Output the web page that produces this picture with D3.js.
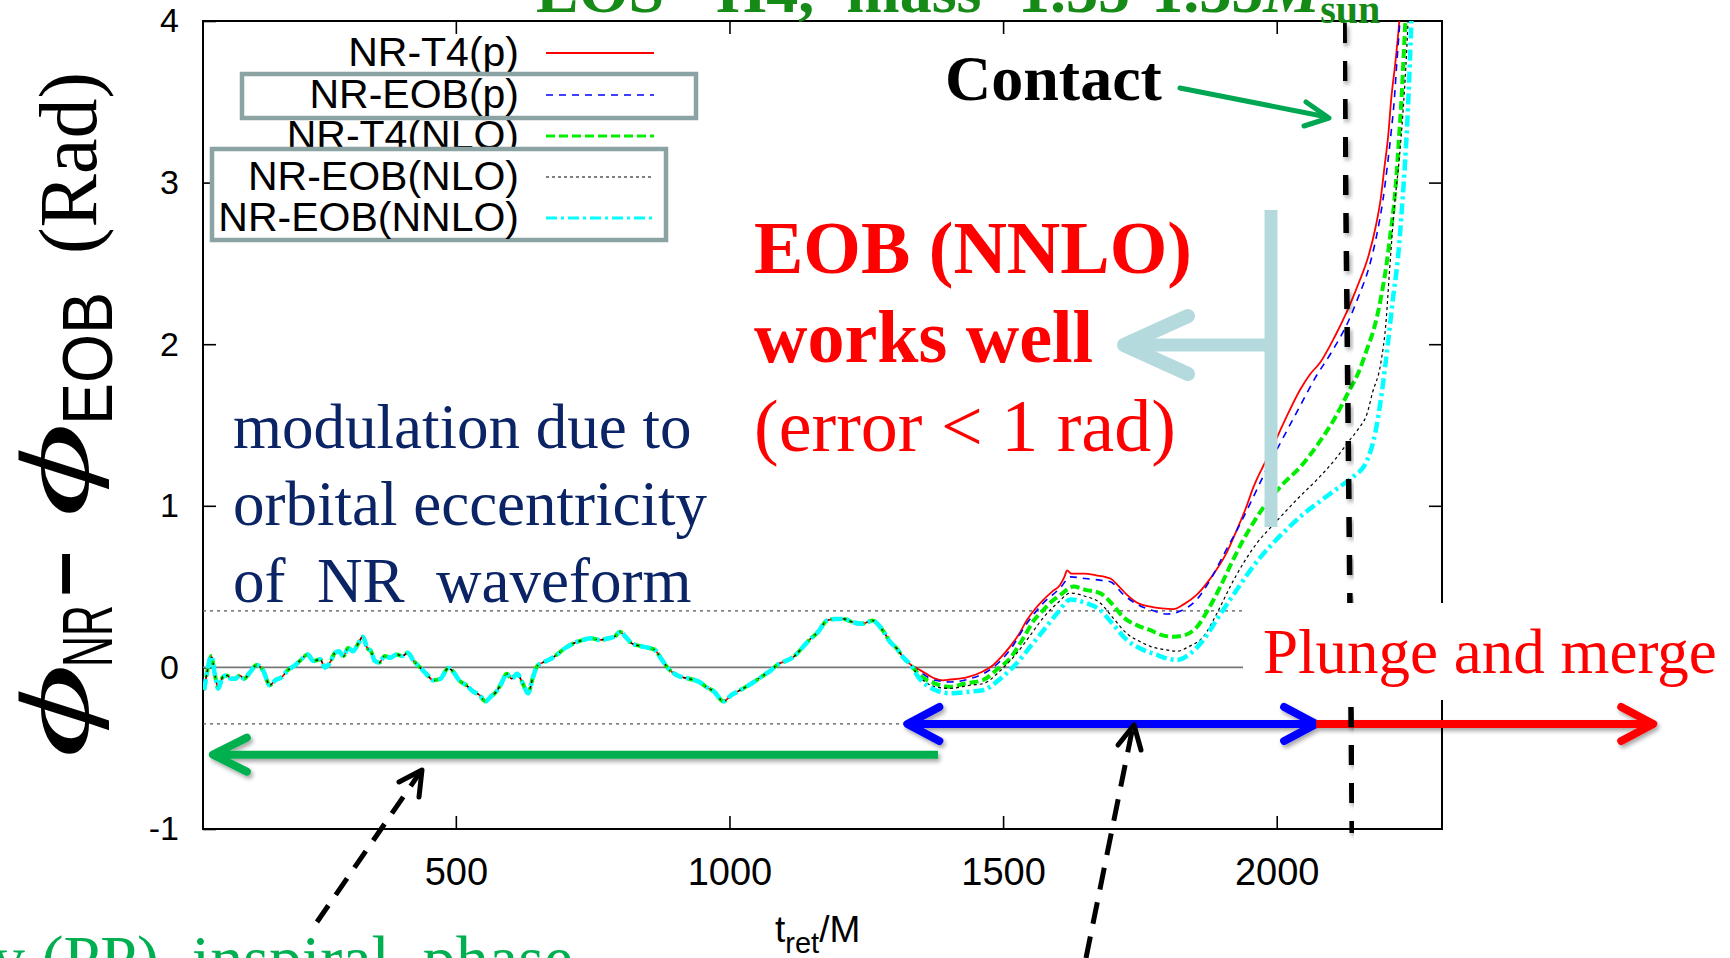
<!DOCTYPE html>
<html>
<head>
<meta charset="utf-8">
<script src="https://cdn.jsdelivr.net/npm/d3@7"></script>
<style>
  html, body { margin: 0; padding: 0; background: #fff; }
  svg { display: block; }
  text { white-space: pre; }
</style>
</head>
<body>
<div id="chart"></div>
<script>
// ---- data ----
const xTicks = [500, 1000, 1500, 2000];
const yTicks = [-1, 0, 1, 2, 3, 4];
const seriesNames = ["NR-T4(p)", "NR-EOB(p)", "NR-T4(NLO)", "NR-EOB(NLO)", "NR-EOB(NNLO)"];

// inspiral part, where all five curves lie on top of each other
const tEarly = [40, 46, 53, 60, 66, 74, 82, 89, 97, 105, 113, 124, 136, 148, 160, 170, 182, 192, 205, 218,
  229, 240, 252, 261, 270, 279, 286, 295, 303, 312, 322, 330, 338, 345, 352, 360, 370, 380, 392, 402,
  412, 423, 433, 446, 459, 472, 486, 496, 506, 519, 532, 543, 554, 564, 574, 583, 593, 602, 612, 621,
  632, 641, 649, 659, 672, 685, 700, 716, 733, 747, 763, 779, 790, 800, 810, 821, 840, 863, 876, 889,
  905, 926, 945, 957, 972, 989, 1004, 1020, 1040, 1062, 1075, 1089, 1103, 1115, 1130, 1146, 1162, 1178, 1193, 1209,
  1225, 1241, 1252, 1262, 1273, 1282, 1293, 1305, 1318, 1330];
const phiEarly = [-0.14, -0.02, 0.07, -0.05, -0.13, -0.06, -0.05, -0.07, -0.07, -0.05, -0.07, -0.03, 0.015, -0.02, -0.11, -0.08, -0.06, -0.02, 0.01, 0.05,
  0.08, 0.04, 0.05, 0.0, 0.03, 0.09, 0.10, 0.07, 0.12, 0.10, 0.15, 0.19, 0.12, 0.10, 0.04, 0.03, 0.07, 0.06, 0.08, 0.07,
  0.09, 0.04, 0.005, -0.04, -0.08, -0.07, -0.005, -0.03, -0.08, -0.11, -0.15, -0.17, -0.21, -0.18, -0.15, -0.10, -0.04, -0.07, -0.04, -0.09,
  -0.16, -0.06, 0.01, 0.03, 0.05, 0.08, 0.12, 0.15, 0.17, 0.18, 0.17, 0.18, 0.19, 0.22, 0.19, 0.15, 0.13, 0.11, 0.05, -0.01,
  -0.05, -0.07, -0.09, -0.12, -0.15, -0.21, -0.17, -0.14, -0.10, -0.05, -0.02, 0.02, 0.04, 0.06, 0.11, 0.17, 0.22, 0.29, 0.30, 0.30,
  0.28, 0.27, 0.28, 0.29, 0.26, 0.22, 0.16, 0.12, 0.06, 0.02];

// late inspiral / merger, one array pair per curve
const tT4p = [1345, 1360, 1376, 1390, 1403, 1420, 1440, 1460, 1482, 1498, 1513, 1528, 1543, 1558, 1574, 1590, 1604, 1612, 1617, 1625,
  1647, 1670, 1696, 1712, 1726, 1745, 1769, 1790, 1811, 1830, 1854, 1872, 1891, 1910, 1927, 1943, 1958, 1973, 1988, 2015,
  2043, 2060, 2080, 2105, 2128, 2150, 2168, 2181, 2190, 2197, 2204, 2209, 2217, 2224, 2232];
const phiT4p = [-0.01, -0.04, -0.07, -0.08, -0.075, -0.07, -0.055, -0.03, 0.015, 0.07, 0.13, 0.20, 0.29, 0.36, 0.42, 0.47, 0.51, 0.56, 0.60, 0.58,
  0.58, 0.57, 0.55, 0.50, 0.45, 0.40, 0.376, 0.365, 0.36, 0.39, 0.45, 0.52, 0.61, 0.72, 0.85, 0.98, 1.12, 1.23, 1.33, 1.53,
  1.72, 1.81, 1.89, 2.04, 2.20, 2.38, 2.55, 2.73, 2.90, 3.10, 3.30, 3.51, 3.75, 4.0, 4.4];

const tEOBp = [1345, 1376, 1403, 1440, 1482, 1513, 1543, 1574, 1604, 1623, 1650, 1677, 1696, 1720, 1745, 1775, 1800, 1825, 1854, 1880,
  1905, 1935, 1958, 1985, 2010, 2043, 2070, 2100, 2132, 2150, 2169, 2183, 2194, 2202, 2209, 2215, 2219, 2225, 2232];
const phiEOBp = [-0.02, -0.08, -0.09, -0.07, 0.0, 0.11, 0.27, 0.40, 0.49, 0.56, 0.55, 0.54, 0.53, 0.45, 0.39, 0.35, 0.33, 0.35, 0.42, 0.55,
  0.71, 0.90, 1.06, 1.25, 1.41, 1.62, 1.79, 1.95, 2.15, 2.30, 2.48, 2.68, 2.89, 3.10, 3.31, 3.52, 3.72, 4.0, 4.4];

const tT4nlo = [1345, 1376, 1403, 1430, 1464, 1490, 1513, 1535, 1556, 1572, 1586, 1605, 1629, 1650, 1677, 1700, 1720, 1745, 1769, 1790,
  1811, 1832, 1854, 1875, 1897, 1918, 1939, 1960, 1982, 2010, 2043, 2075, 2104, 2132, 2150, 2165, 2178, 2190, 2200, 2208,
  2215, 2220, 2224, 2228, 2231, 2235, 2240];
const phiT4nlo = [-0.04, -0.10, -0.12, -0.10, -0.077, -0.01, 0.057, 0.17, 0.29, 0.35, 0.40, 0.45, 0.50, 0.48, 0.46, 0.39, 0.31, 0.26, 0.23, 0.20,
  0.19, 0.20, 0.25, 0.36, 0.50, 0.65, 0.79, 0.91, 1.02, 1.13, 1.24, 1.38, 1.53, 1.71, 1.83, 1.97, 2.10, 2.28, 2.48, 2.69,
  2.89, 3.10, 3.31, 3.52, 3.72, 4.0, 4.4];

const tEOBnlo = [1345, 1376, 1403, 1440, 1464, 1495, 1525, 1550, 1574, 1600, 1623, 1650, 1677, 1700, 1726, 1750, 1769, 1795, 1818, 1840,
  1866, 1890, 1915, 1940, 1964, 1990, 2012, 2040, 2073, 2105, 2134, 2150, 2165, 2175, 2190, 2200, 2206, 2215, 2224, 2231,
  2236, 2240, 2245];
const phiEOBnlo = [-0.05, -0.12, -0.13, -0.11, -0.10, -0.02, 0.088, 0.20, 0.31, 0.40, 0.46, 0.44, 0.40, 0.31, 0.21, 0.16, 0.13, 0.11, 0.10, 0.13,
  0.19, 0.33, 0.50, 0.65, 0.77, 0.87, 0.95, 1.05, 1.16, 1.28, 1.41, 1.48, 1.57, 1.70, 1.88, 2.15, 2.45, 2.85, 3.15, 3.45,
  3.72, 4.0, 4.4];

const tEOBnnlo = [1345, 1376, 1403, 1440, 1464, 1495, 1525, 1550, 1574, 1600, 1623, 1650, 1677, 1700, 1726, 1755, 1781, 1800, 1818, 1840,
  1866, 1895, 1927, 1958, 1988, 2020, 2049, 2080, 2116, 2140, 2165, 2180, 2192, 2203, 2213, 2222, 2229, 2234, 2239, 2243,
  2246, 2250];
const phiEOBnnlo = [-0.06, -0.14, -0.16, -0.15, -0.14, -0.07, 0.026, 0.13, 0.23, 0.34, 0.42, 0.40, 0.356, 0.27, 0.17, 0.11, 0.077, 0.055, 0.046, 0.08,
  0.17, 0.32, 0.48, 0.63, 0.75, 0.86, 0.95, 1.03, 1.12, 1.18, 1.28, 1.45, 1.70, 2.0, 2.30, 2.55, 2.85, 3.10, 3.40, 3.72,
  4.0, 4.4];

const lateT = [tT4p, tEOBp, tT4nlo, tEOBnlo, tEOBnnlo];
const latePhi = [phiT4p, phiEOBp, phiT4nlo, phiEOBnlo, phiEOBnnlo];

// reference levels and phase ranges (t_ret/M, rad)
const zeroLevel = 0;
const bandLevel = 0.35;
const refRangeT = [38, 1940];
const contactT = [2123, 2138];
const ppRangeT = [1381, 56];
const interRangeT = [1325, 2072];
const plungeRangeT = [2072, 2688];

// ---- styles ----
const colors = ["#ff0000", "#0000ff", "#00ee00", "#000000", "#00ffff"];
const widths = [1.8, 1.6, 4, 1.2, 4.5];
const dashes = [null, "7,6", "9,4", "3,3", "11,4,3,4"];

const W = 1730, H = 958;
const svg = d3.select("#chart").append("svg")
  .attr("width", W).attr("height", H)
  .style("background", "#fff");

const x = d3.scaleLinear().domain([38, 2302]).range([203, 1442]);
const y = d3.scaleLinear().domain([-1, 4]).range([829, 21]);

const defs = svg.append("defs");
defs.append("clipPath").attr("id", "plotclip")
  .append("rect").attr("x", 203).attr("y", 21).attr("width", 1239).attr("height", 808);
const sh = defs.append("filter").attr("id", "shadow")
  .attr("x", "-10%").attr("y", "-50%").attr("width", "120%").attr("height", "200%");
sh.append("feDropShadow").attr("dx", 2).attr("dy", 3).attr("stdDeviation", 2)
  .attr("flood-color", "#000").attr("flood-opacity", 0.35);

// ---- axes ----
const sans = "'Liberation Sans', Arial, Helvetica, sans-serif";
const serif = "'Liberation Serif', 'Times New Roman', serif";

function styleAxis(g) {
  g.select(".domain").remove();
  g.selectAll(".tick line").attr("stroke", "#000").attr("stroke-width", 1.6);
}

svg.append("g").attr("transform", "translate(0,829)")
  .call(d3.axisBottom(x).tickValues(xTicks).tickSizeInner(-13).tickSizeOuter(0).tickPadding(29).tickFormat(d => String(d)))
  .attr("font-family", sans).attr("font-size", 38)
  .call(styleAxis);
svg.append("g").attr("transform", "translate(0,21)")
  .call(d3.axisTop(x).tickValues(xTicks).tickSizeInner(-13).tickSizeOuter(0).tickFormat(""))
  .call(styleAxis);
svg.append("g").attr("transform", "translate(203,0)")
  .call(d3.axisLeft(y).tickValues(yTicks).tickSizeInner(-13).tickSizeOuter(0).tickPadding(24).tickFormat(d => String(d)))
  .attr("font-family", sans).attr("font-size", 34)
  .call(styleAxis);
svg.append("g").attr("transform", "translate(1442,0)")
  .call(d3.axisRight(y).tickValues(yTicks.slice(1, -1)).tickSizeInner(-13).tickSizeOuter(0).tickFormat(""))
  .call(styleAxis);

svg.append("rect").attr("x", 203).attr("y", 21).attr("width", 1239).attr("height", 808)
  .attr("fill", "none").attr("stroke", "#000").attr("stroke-width", 2);

// axis titles
const xl = svg.append("text").attr("x", 775).attr("y", 942)
  .attr("font-family", sans).attr("font-size", 37);
xl.append("tspan").text("t");
xl.append("tspan").attr("font-size", 29).attr("dy", 11).text("ret");
xl.append("tspan").attr("dy", -11).text("/M");

function rotText(bx, sy, str, fam, size, len, weight, style) {
  const t = svg.append("text")
    .attr("transform", `translate(${bx},${sy}) rotate(-90)`)
    .attr("font-family", fam).attr("font-size", size)
    .attr("font-weight", weight || "normal").attr("font-style", style || "normal")
    .text(str);
  if (len) t.attr("textLength", len).attr("lengthAdjust", "spacingAndGlyphs");
}
const phiFont = "'Liberation Serif', 'DejaVu Serif', serif";
rotText(88, 758, "\u03d5", phiFont, 100, 94, "normal", "italic");
rotText(112, 667, "NR", sans, 70, 62);
rotText(87, 596, "\u2013", sans, 80, null, "bold");
rotText(88, 517, "\u03d5", phiFont, 100, 94, "normal", "italic");
rotText(112, 425, "EOB", sans, 71, 133);
rotText(96, 254, "(Rad)", serif, 82, 182);

// ---- reference lines ----
const plot = svg.append("g").attr("clip-path", "url(#plotclip)");
plot.append("line")
  .attr("x1", x(refRangeT[0])).attr("x2", x(refRangeT[1]))
  .attr("y1", y(zeroLevel)).attr("y2", y(zeroLevel))
  .attr("stroke", "#777").attr("stroke-width", 1.6);
[bandLevel, -bandLevel].forEach(v => {
  plot.append("line")
    .attr("x1", x(refRangeT[0])).attr("x2", x(refRangeT[1]))
    .attr("y1", y(v)).attr("y2", y(v))
    .attr("stroke", "#555").attr("stroke-width", 1.3).attr("stroke-dasharray", "3,4");
});

// ---- curves ----
const series = seriesNames.map((name, i) => ({
  name,
  pts: tEarly.map((t, j) => [t, phiEarly[j]])
    .concat(lateT[i].map((t, j) => [t, latePhi[i][j]]))
}));

const line = d3.line().x(d => x(d[0])).y(d => y(d[1])).curve(d3.curveMonotoneX);
plot.selectAll("path.curve").data(series).join("path")
  .attr("class", "curve")
  .attr("d", d => line(d.pts))
  .attr("fill", "none")
  .attr("stroke", (d, i) => colors[i])
  .attr("stroke-width", (d, i) => widths[i])
  .attr("stroke-dasharray", (d, i) => dashes[i]);

// ---- legend ----
const legRowY = [53, 95, 136, 177, 218];
const legend = svg.append("g").attr("font-family", sans).attr("font-size", 41);
function legendRow(i) {
  legend.append("text").attr("x", 519).attr("y", legRowY[i] + 13)
    .attr("text-anchor", "end").text(seriesNames[i]);
  legend.append("line").attr("x1", 546).attr("x2", 654)
    .attr("y1", legRowY[i]).attr("y2", legRowY[i])
    .attr("stroke", colors[i]).attr("stroke-width", Math.min(widths[i], 3.2))
    .attr("stroke-dasharray", dashes[i]);
}
legendRow(0);
legendRow(2);
legend.append("rect").attr("x", 242).attr("y", 74).attr("width", 454).attr("height", 44)
  .attr("fill", "#fff").attr("stroke", "#8ca3a4").attr("stroke-width", 4.5);
legend.append("rect").attr("x", 212).attr("y", 149).attr("width", 454).attr("height", 91)
  .attr("fill", "#fff").attr("stroke", "#8ca3a4").attr("stroke-width", 4.5);
legendRow(1);
legendRow(3);
legendRow(4);

// ---- title (cut by the top edge) ----
const title = svg.append("text").attr("x", 536).attr("y", 12)
  .attr("font-family", serif).attr("font-size", 64).attr("font-weight", "bold").attr("fill", "#168a16");
title.append("tspan").text("EOS= H4,  mass=1.35-1.35");
title.append("tspan").attr("font-style", "italic").text("M");
title.append("tspan").attr("font-size", 40).attr("dy", 11).text("sun");

// ---- annotations ----
const ann = svg.append("g");

function chevron(g, tx, ty, ax, ay, color, w) {
  g.append("polyline")
    .attr("points", `${tx + ax},${ty - ay} ${tx},${ty} ${tx + ax},${ty + ay}`)
    .attr("fill", "none").attr("stroke", color).attr("stroke-width", w)
    .attr("stroke-linecap", "round").attr("stroke-linejoin", "round");
}

// "Contact" label and arrow
ann.append("text").attr("x", 945).attr("y", 100)
  .attr("font-family", serif).attr("font-size", 64).attr("font-weight", "bold").text("Contact");
const ca = ann.append("g");
ca.append("line").attr("x1", 1180).attr("y1", 88).attr("x2", 1327).attr("y2", 117)
  .attr("stroke", "#00a651").attr("stroke-width", 5).attr("stroke-linecap", "round");
ca.append("polyline").attr("points", "1306,102 1329,118 1304,126")
  .attr("fill", "none").attr("stroke", "#00a651").attr("stroke-width", 5)
  .attr("stroke-linecap", "round").attr("stroke-linejoin", "round");

// EOB (NNLO) statement
const red = ann.append("g").attr("font-family", serif).attr("fill", "#ff0000").attr("font-size", 74);
red.append("text").attr("x", 754).attr("y", 273).attr("font-weight", "bold").text("EOB (NNLO)");
red.append("text").attr("x", 754).attr("y", 362).attr("font-weight", "bold").text("works well");
red.append("text").attr("x", 754).attr("y", 451).text("(error < 1 rad)");

// light-blue bracket arrow
const lb = ann.append("g").attr("stroke", "#b4dade").attr("fill", "none");
lb.append("line").attr("x1", 1271).attr("x2", 1271).attr("y1", 210).attr("y2", 527).attr("stroke-width", 13);
lb.append("line").attr("x1", 1271).attr("x2", 1130).attr("y1", 345).attr("y2", 345).attr("stroke-width", 13);
chevron(lb, 1124, 345, 64, 29, "#b4dade", 14);

// eccentricity note
const note = ann.append("g").attr("font-family", serif).attr("font-size", 63).attr("fill", "#0b2466");
["modulation due to", "orbital eccentricity", "of  NR  waveform"].forEach((s, i) => {
  note.append("text").attr("x", 233).attr("y", 448 + i * 77).text(s);
});

// phase arrows
const pa = ann.append("g").attr("filter", "url(#shadow)");
const yPP = y(-0.54), yMid = y(-bandLevel);
pa.append("line").attr("x1", x(ppRangeT[0])).attr("x2", x(ppRangeT[1]) + 3)
  .attr("y1", yPP).attr("y2", yPP).attr("stroke", "#00b050").attr("stroke-width", 8);
chevron(pa, x(ppRangeT[1]), yPP, 34, 17, "#00b050", 8);
pa.append("line").attr("x1", x(interRangeT[0]) + 3).attr("x2", x(interRangeT[1]) - 3)
  .attr("y1", yMid).attr("y2", yMid).attr("stroke", "#0000ff").attr("stroke-width", 8);
chevron(pa, x(interRangeT[0]), yMid, 32, 17, "#0000ff", 8);
chevron(pa, x(interRangeT[1]), yMid, -32, 17, "#0000ff", 8);
pa.append("line").attr("x1", x(plungeRangeT[0])).attr("x2", x(plungeRangeT[1]) - 3)
  .attr("y1", yMid).attr("y2", yMid).attr("stroke", "#ff0000").attr("stroke-width", 8);
chevron(pa, x(plungeRangeT[1]), yMid, -32, 17, "#ff0000", 8);

// contact time (dashed vertical)
ann.append("line")
  .attr("x1", x(contactT[0])).attr("y1", y(4) + 2)
  .attr("x2", x(contactT[1])).attr("y2", y(-1) + 4)
  .attr("stroke", "#000").attr("stroke-width", 5.5).attr("stroke-dasharray", "20,18")
  .attr("filter", "url(#shadow)");

// "Plunge and merge" on a white patch
ann.append("rect").attr("x", 1243).attr("y", 603).attr("width", 487).attr("height", 97).attr("fill", "#fff");
ann.append("text").attr("x", 1263).attr("y", 673)
  .attr("font-family", serif).attr("font-size", 63).attr("fill", "#ff0000").text("Plunge and merge");

// dashed pointer arrows from the bottom captions
const da = ann.append("g").attr("stroke", "#000").attr("fill", "none");
da.append("line").attr("x1", 317).attr("y1", 922).attr("x2", 419).attr("y2", 774)
  .attr("stroke-width", 5).attr("stroke-dasharray", "20,13");
da.append("polyline").attr("points", "399,782 422,770 419,797").attr("stroke-width", 5)
  .attr("stroke-linecap", "round").attr("stroke-linejoin", "round");
da.append("line").attr("x1", 1086).attr("y1", 958).attr("x2", 1132).attr("y2", 731)
  .attr("stroke-width", 5).attr("stroke-dasharray", "22,13");
da.append("polyline").attr("points", "1118,745 1134,725 1141,750").attr("stroke-width", 5)
  .attr("stroke-linecap", "round").attr("stroke-linejoin", "round");

// bottom captions (cut by the bottom edge)
ann.append("text").attr("x", -8).attr("y", 981)
  .attr("font-family", serif).attr("font-size", 66).attr("fill", "#00b050")
  .text("y (PP)  inspiral  phase");
</script>
</body>
</html>
